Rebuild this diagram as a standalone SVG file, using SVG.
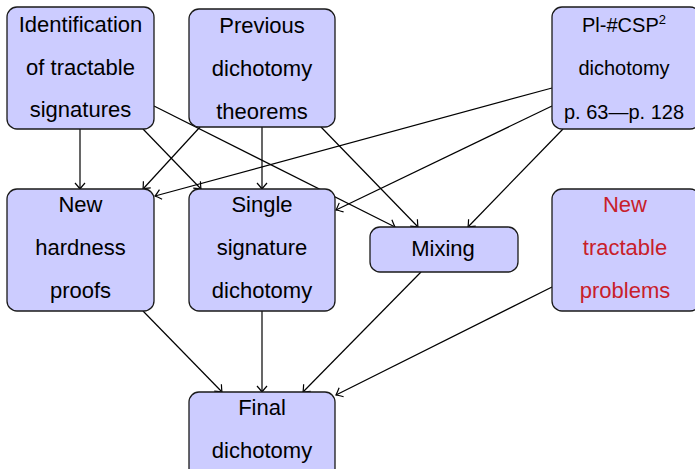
<svg xmlns="http://www.w3.org/2000/svg" width="695" height="469" viewBox="0 0 695 469">
<style>
.box{fill:#ccccff;stroke:#1a1a1a;stroke-width:1.3}
.t{font-family:"Liberation Sans",Arial,sans-serif;font-size:22px;fill:#000;text-anchor:middle}
.s{font-size:20px}
.red{fill:#c8202a}
.e{fill:none;stroke:#000;stroke-width:1.2;marker-end:url(#arr)}
</style>
<defs>
<marker id="arr" markerUnits="userSpaceOnUse" markerWidth="14" markerHeight="14" refX="0" refY="0" viewBox="-8 -7 10 14" orient="auto" overflow="visible">
<path d="M -6,-5 Q -1.5,-1 0,0 Q -1.5,1 -6,5" fill="none" stroke="#000" stroke-width="1.2"/>
</marker>
</defs>
<g id="edges">
<line class="e" x1="80" y1="129" x2="80" y2="189"/>
<line class="e" x1="143" y1="129" x2="201" y2="189"/>
<line class="e" x1="154" y1="106" x2="395" y2="227"/>
<line class="e" x1="200" y1="127" x2="143" y2="189"/>
<line class="e" x1="262" y1="127" x2="262" y2="189"/>
<line class="e" x1="321" y1="127" x2="418" y2="227"/>
<line class="e" x1="552" y1="88" x2="155" y2="196"/>
<line class="e" x1="552" y1="106" x2="336" y2="210"/>
<line class="e" x1="563" y1="129" x2="468" y2="227"/>
<line class="e" x1="143" y1="311" x2="222" y2="392"/>
<line class="e" x1="262" y1="311" x2="262" y2="392"/>
<line class="e" x1="421" y1="272" x2="303" y2="392"/>
<line class="e" x1="552" y1="287" x2="336" y2="395"/>
</g>
<g id="n-ident">
<rect class="box" x="7" y="7" width="147" height="122" rx="10"/>
<text class="t" x="80.5" y="32">Identification</text>
<text class="t" x="80.5" y="75">of tractable</text>
<text class="t" x="80.5" y="117">signatures</text>
</g>
<g id="n-prev">
<rect class="box" x="189" y="9" width="146" height="118" rx="10"/>
<text class="t" x="262" y="33">Previous</text>
<text class="t" x="262" y="76">dichotomy</text>
<text class="t" x="262" y="119">theorems</text>
</g>
<g id="n-pi">
<rect class="box" x="552" y="7" width="148" height="122" rx="10"/>
<text class="t s" x="624" y="32">Pl-#CSP<tspan font-size="13" dy="-8">2</tspan></text>
<text class="t s" x="624" y="75">dichotomy</text>
<text class="t s" x="624" y="119">p. 63—p. 128</text>
</g>
<g id="n-hard">
<rect class="box" x="7" y="189" width="147" height="122" rx="10"/>
<text class="t" x="80.5" y="212">New</text>
<text class="t" x="80.5" y="255">hardness</text>
<text class="t" x="80.5" y="298">proofs</text>
</g>
<g id="n-single">
<rect class="box" x="189" y="189" width="146" height="122" rx="10"/>
<text class="t" x="262" y="212">Single</text>
<text class="t" x="262" y="255">signature</text>
<text class="t" x="262" y="298">dichotomy</text>
</g>
<g id="n-mix">
<rect class="box" x="370" y="227" width="148" height="45" rx="10"/>
<text class="t" x="443" y="256">Mixing</text>
</g>
<g id="n-newtract">
<rect class="box" x="552" y="189" width="148" height="122" rx="10"/>
<text class="t red" x="625" y="212">New</text>
<text class="t red" x="625" y="255">tractable</text>
<text class="t red" x="625" y="298">problems</text>
</g>
<g id="n-final">
<rect class="box" x="189" y="392" width="146" height="90" rx="10"/>
<text class="t" x="262" y="415">Final</text>
<text class="t" x="262" y="458">dichotomy</text>
</g>
</svg>
